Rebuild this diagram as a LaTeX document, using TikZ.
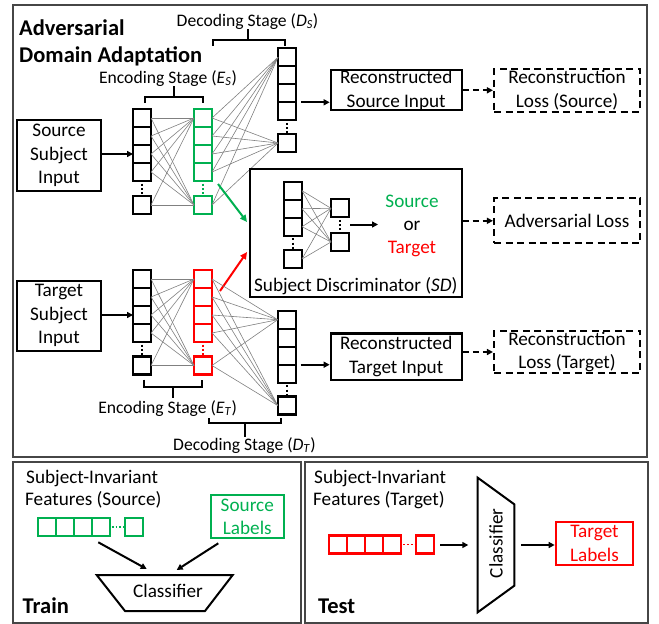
\documentclass[tikz,border=0pt]{standalone}
\usepackage{fontspec}
\setmainfont{Carlito}
\usetikzlibrary{arrows.meta}
\definecolor{mygreen}{RGB}{0,176,80}
\definecolor{myred}{RGB}{255,0,0}
\definecolor{panelgray}{RGB}{70,70,70}
\newcommand\bodyf{\fontsize{19.2}{23.5}\selectfont}
\newcommand\smallf{\fontsize{17.6}{20}\selectfont}
\newcommand\titlef{\fontsize{22.5}{27}\selectfont\bfseries}
% name, cx, top, ncells, bottom-centre, colour
\newcommand\netcol[6]{%
  \foreach \i in {1,...,#4}{\node[cell,draw=#6] (#1\i) at (#2,{#3+9+18*(\i-1)}) {};}
  \node[cell,draw=#6] (#1b) at (#2,#5) {};
  \draw[vdots,#6] (#2,{#3+18*#4+2.5}) -- (#2,{#5-9-1.5});
}
\begin{document}
\begin{tikzpicture}[x=1pt,y=-1pt,
  cell/.style={draw,line width=2.1pt,minimum size=18pt,inner sep=0pt,outer sep=0pt},
  vdots/.style={line width=2pt,dash pattern=on 2pt off 2.3pt},
  hdots/.style={line width=1.8pt,dash pattern=on 1.8pt off 2pt},
  conn/.style={black!50,line width=0.6pt},
  box/.style={draw,line width=2.1pt,align=center,font=\bodyf,inner sep=0pt},
  dbox/.style={box,dashed,dash pattern=on 7pt off 4.5pt},
  panel/.style={draw=panelgray,line width=1.5pt},
  brk/.style={line width=2pt},
  arr/.style={line width=2pt,-{Triangle[length=6pt,width=6pt]}},
  darr/.style={arr,dash pattern=on 6pt off 4pt},
  garr/.style={arr,draw=mygreen,-{Triangle[length=7pt,width=6.5pt,fill=mygreen]}},
  rarr/.style={arr,draw=myred,-{Triangle[length=7pt,width=6.5pt,fill=myred]}},
  lbl/.style={font=\smallf,inner sep=0pt},
  txt/.style={font=\bodyf,inner sep=0pt},
  ttl/.style={font=\titlef,inner sep=0pt}
]
\useasboundingbox (0,0) rectangle (659,624);
% panels
\draw[panel] (13,5) rectangle (647,457);
\draw[panel] (13,462) rectangle (301,623);
\draw[panel] (305,462) rectangle (648,623);

% title
\node[ttl,anchor=base west] (t1) at (19,35) {Adversarial};
\node[ttl,anchor=base west] (t2) at (19,62) {Domain Adaptation};

% ---------- source branch
\netcol{sa}{142}{109}{4}{205}{black}
\netcol{sb}{203}{109}{4}{205}{mygreen}
\netcol{ds}{287}{48.3}{4}{143}{black}
\foreach \i in {1,2,3,4,b}{\foreach \j in {1,b}{\draw[conn] (sa\i.east) -- (sb\j.west);}}
\foreach \i in {1,2,3,4,b}{\foreach \j in {1,b}{\draw[conn] (sb\i.east) -- (ds\j.west);}}

\node[box,minimum width=84pt,minimum height=70.5pt] (src) at (59,155.4) {Source\\Subject\\Input};
\draw[arr] (src.east |- sa3.west) -- (sa3.west);

\draw[brk] (145,103) -- (145,97) -- (203,97) -- (203,103);
\draw[brk] (174,97) -- (174,86);
\node[lbl,anchor=base] (es) at (168,83) {Encoding Stage (\textit{E}\textsubscript{\textit{S}})};
\draw[brk] (212.7,45.5) -- (212.7,40) -- (285,40) -- (285,45.5);
\draw[brk] (248,40) -- (248,29);
\node[lbl,anchor=base] (dsl) at (247.5,26) {Decoding Stage (\textit{D}\textsubscript{\textit{S}})};

\node[box,minimum width=131pt,minimum height=39.5pt] (rs) at (396.2,90.3) {Reconstructed\\Source Input};
\node[dbox,minimum width=146pt,minimum height=42.5pt] (rls) at (567,90.3) {Reconstruction\\Loss (Source)};
\draw[arr,shorten <=5pt] (ds3.south east) -- (ds3.south east -| rs.west);
\draw[darr] (rs.east) -- (rls.west);

% ---------- discriminator
\node[box,minimum width=211.7pt,minimum height=128pt] (disc) at (355.8,233.3) {};
\netcol{da}{293}{181.7}{3}{259}{black}
\netcol{dq}{340}{199.3}{1}{242}{black}
\foreach \i in {1,2,3,b}{\foreach \j in {1,b}{\draw[conn] (da\i.east) -- (dq\j.west);}}
\coordinate (dqs) at (350,224.5);
\coordinate (dqe) at (378,224.5);
\draw[arr] (dqs) -- (dqe);
\node[txt,anchor=base,text=mygreen] (so) at (412,207.7) {Source};
\node[txt,anchor=base] (or) at (412,230) {or};
\node[txt,anchor=base,text=myred] (ta) at (412,253) {Target};
\node[txt,anchor=base] (sdl) at (355.8,291) {Subject Discriminator (\textit{SD})};
\node[dbox,minimum width=146pt,minimum height=45pt] (adv) at (567,220.8) {Adversarial Loss};
\draw[darr] (adv.west -| disc.east) -- (adv.west);

\coordinate (g0) at (218,184);
\coordinate (g1) at (247,222);
\draw[garr] (g0) -- (g1);
\coordinate (r0) at (220,291);
\coordinate (r1) at (247,252);
\draw[rarr] (r0) -- (r1);

% ---------- target branch
\netcol{ta}{142}{270}{4}{365.5}{black}
\netcol{tb}{203}{270}{4}{365.5}{myred}
\netcol{dt}{286.7}{310.7}{4}{405.5}{black}
\foreach \i in {1,2,3,4,b}{\foreach \j in {1,b}{\draw[conn] (ta\i.east) -- (tb\j.west);}}
\foreach \i in {1,2,3,4,b}{\foreach \j in {1,b}{\draw[conn] (tb\i.east) -- (dt\j.west);}}

\node[box,minimum width=84pt,minimum height=70pt] (tgt) at (59,315.7) {Target\\Subject\\Input};
\draw[arr] (tgt.east |- ta3.west) -- (ta3.west);

\draw[brk] (144,379.5) -- (144,386.7) -- (201.7,386.7) -- (201.7,379.5);
\draw[brk] (173,386.7) -- (173,398);
\node[lbl,anchor=base] (etl) at (167.7,413.3) {Encoding Stage (\textit{E}\textsubscript{\textit{T}})};
\draw[brk] (209.3,418) -- (209.3,423.3) -- (281,423.3) -- (281,418);
\draw[brk] (245,423.3) -- (245,436.5);
\node[lbl,anchor=base] (dtl) at (244.5,450) {Decoding Stage (\textit{D}\textsubscript{\textit{T}})};

\node[box,minimum width=131pt,minimum height=46.5pt] (rt) at (396.2,356.7) {Reconstructed\\Target Input};
\node[dbox,minimum width=146pt,minimum height=42.5pt] (rlt) at (567,352) {Reconstruction\\Loss (Target)};
\draw[arr,shorten <=5pt] (dt3.south east) -- (dt3.south east -| rt.west);
\draw[darr] (rlt.west -| rt.east) -- (rlt.west);

% ---------- train panel
\node[txt,anchor=base west] (f1) at (26,483) {Subject-Invariant};
\node[txt,anchor=base west] (f2) at (25,505) {Features (Source)};
\foreach \k in {1,2,3,4}{\node[cell,draw=mygreen] (gf\k) at ({37.7+9+18*(\k-1)},527) {};}
\node[cell,draw=mygreen] (gfb) at (134.2,527) {};
\draw[hdots,mygreen] (gf4.east) ++(2,0) -- (124,527);
\node[box,draw=mygreen,text=mygreen,minimum width=73.3pt,minimum height=43.3pt] (sl) at (247.3,516.7) {Source\\Labels};
\draw[line width=2pt] (96.7,575) -- (232.7,575) -- (205,611) -- (125,611) -- cycle;
\node[txt] (clf1) at (168,591) {Classifier};
\coordinate (c1a) at (146.7,569);
\coordinate (c1b) at (176.7,570);
\coordinate (gfs) at (98.3,542.3);
\coordinate (sls) at (218.3,543.3);
\draw[arr] (gfs) -- (c1a);
\draw[arr] (sls) -- (c1b);
\node[ttl,anchor=base west] (train) at (22.5,613) {Train};

% ---------- test panel
\node[txt,anchor=base west] (f3) at (314,483) {Subject-Invariant};
\node[txt,anchor=base west] (f4) at (313,505) {Features (Target)};
\foreach \k in {1,2,3,4}{\node[cell,draw=myred] (rf\k) at ({329.3+9+18*(\k-1)},544.5) {};}
\node[cell,draw=myred] (rfb) at (425,544.5) {};
\draw[hdots,myred] (rf4.east) ++(2,0) -- (415,544.5);
\draw[line width=2pt] (477.7,477.7) -- (514.3,504.3) -- (514.3,585.7) -- (477.7,612.3) -- cycle;
\node[txt,rotate=90] (clf2) at (496,543.3) {Classifier};
\coordinate (c2a) at (468.3,545);
\coordinate (c2b) at (521,545);
\node[box,draw=myred,text=myred,minimum width=77.6pt,minimum height=43.3pt] (tl) at (594.5,543.3) {Target\\Labels};
\draw[arr,shorten <=6pt] (rfb.east |- c2a) -- (c2a);
\draw[arr] (c2b) -- (c2b -| tl.west);
\node[ttl,anchor=base west] (test) at (318,613) {Test};
\end{tikzpicture}
\end{document}
